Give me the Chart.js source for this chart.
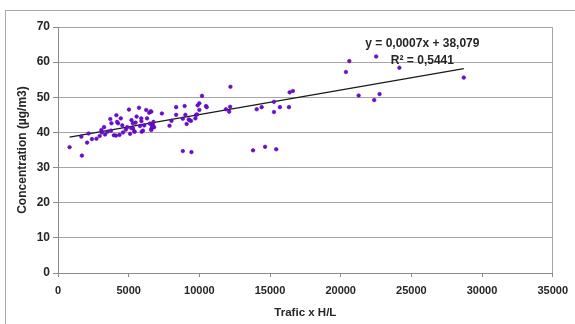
<!DOCTYPE html>
<html>
<head>
<meta charset="utf-8">
<script src="https://cdn.jsdelivr.net/npm/chart.js@4/dist/chart.umd.min.js"></script>
<style>
  html, body { margin: 0; padding: 0; background: #fff; }
  #wrap { position: relative; width: 575px; height: 324px; overflow: hidden; }
  #frame { position: absolute; left: 5px; top: 10px; right: -3px; bottom: -3px;
           border-left: 1px solid #a8a8a8; border-top: 1px solid #a8a8a8; }
  canvas { position: absolute; left: 0; top: 0; }
</style>
</head>
<body>
<div id="wrap">
  <div id="frame"></div>
  <canvas id="chart" width="575" height="324"></canvas>
</div>
<script>
// Traffic load (Trafic x H/L) at each measuring site
const trafic = [
  820, 1690, 1650, 2060, 2160, 2400, 2720, 2950, 3070, 3100,
  3260, 3330, 3500, 3700, 3780, 3750, 3950, 4100, 4130, 4250,
  4350, 4440, 4550, 4600, 4800, 4900, 5020, 5100, 5200, 5300,
  5400, 5490, 5560, 5730, 5800, 5900, 5920, 6100, 6240, 6300,
  6450, 6550, 6500, 6600, 6650, 6700, 6600, 6750, 6800, 7350,
  7890, 8030, 8360, 8360, 8830, 8830, 8960, 9010, 9100, 9250,
  9410, 9440, 9720, 9770, 9880, 10000, 10000, 10190, 10470, 10520,
  11880, 12110, 12180, 12200, 13800, 14060, 14410, 14650, 15280, 15280,
  15440, 15700, 16340, 16390, 16620, 20370, 20610, 21270, 22370, 22510,
  22750, 24150, 28710,
  5890, 6600, 5300, 6690, 6010, 5190, 5420, 9300, 9840, 4180
];

// Measured concentration (µg/m3) at the same sites
const concentration = [
  35.8, 33.4, 38.8, 37.1, 39.7, 38.1, 38.2, 39.0, 40.7, 40.0,
  41.5, 39.4, 40.2, 43.8, 42.6, 40.5, 39.2, 39.1, 44.9, 42.6,
  39.3, 44.0, 42.0, 40.0, 40.8, 41.5, 46.5, 39.6, 43.5, 41.2,
  40.3, 42.8, 44.5, 47.0, 41.8, 43.2, 40.2, 42.0, 46.4, 44.0,
  45.6, 46.0, 42.5, 41.0, 41.8, 42.3, 40.7, 43.0, 41.5, 45.4,
  41.9, 43.3, 47.2, 45.0, 43.9, 34.7, 47.5, 45.0, 42.4, 43.7,
  43.3, 34.4, 44.0, 45.0, 47.7, 48.3, 46.4, 50.4, 47.5, 47.2,
  46.6, 45.9, 47.3, 53.0, 34.9, 46.6, 47.2, 35.9, 48.7, 45.8,
  35.2, 47.2, 47.2, 51.4, 51.8, 57.2, 60.3, 50.5, 49.2, 61.6,
  50.9, 58.4, 55.6,
  44.0, 45.9, 42.6, 41.5, 40.5, 41.2, 40.2, 43.5, 45.1, 43.0
];

// Linear trend reported for the series
const slope = 0.0007;
const intercept = 38.079;
const equationLabel = 'y = 0,0007x + 38,079';
const r2Label = 'R\u00B2 = 0,5441';

// Axis ticks
const xTicks = [0, 5000, 10000, 15000, 20000, 25000, 30000, 35000];
const yTicks = [0, 10, 20, 30, 40, 50, 60, 70];

const points = trafic.map((t, i) => ({ x: t, y: concentration[i] }));
const xMin = Math.min(...trafic);
const xMax = Math.max(...trafic);
const trend = [
  { x: xMin, y: intercept + slope * xMin },
  { x: xMax, y: intercept + slope * xMax }
];

const FONT = '"Liberation Sans", Arial, sans-serif';

// Writes the regression equation and R² above the trend line
const equationText = {
  id: 'equationText',
  afterDatasetsDraw(chart) {
    const { ctx, scales } = chart;
    const cx = scales.x.getPixelForValue(25780);
    ctx.save();
    ctx.font = 'bold 12px ' + FONT;
    ctx.fillStyle = '#262626';
    ctx.textAlign = 'center';
    ctx.textBaseline = 'middle';
    ctx.fillText(equationLabel, cx, scales.y.getPixelForValue(65.2));
    ctx.fillText(r2Label, cx, scales.y.getPixelForValue(60.4));
    ctx.restore();
  }
};

new Chart(document.getElementById('chart'), {
  type: 'scatter',
  data: {
    datasets: [
      {
        label: 'Concentration',
        data: points,
        pointStyle: 'circle',
        pointRadius: 1.8,
        pointBackgroundColor: '#6a10cc',
        pointBorderColor: '#5a00b8',
        pointBorderWidth: 0.6
      },
      {
        label: 'Trend',
        data: trend,
        showLine: true,
        borderColor: '#1a1a1a',
        borderWidth: 1.3,
        pointRadius: 0
      }
    ]
  },
  options: {
    responsive: false,
    animation: false,
    devicePixelRatio: 1,
    layout: { padding: { top: 27, right: 20, left: 0, bottom: 0 } },
    plugins: { legend: { display: false }, tooltip: { enabled: false } },
    scales: {
      x: {
        type: 'linear',
        min: xTicks[0],
        max: xTicks[xTicks.length - 1],
        afterBuildTicks(scale) { scale.ticks = xTicks.map(v => ({ value: v })); },
        afterFit(scale) { scale.height = 51; },
        ticks: {
          font: { family: FONT, size: 11, weight: 'bold' },
          color: '#262626',
          padding: 7,
          maxRotation: 0,
          callback: v => String(v)
        },
        grid: {
          drawOnChartArea: true,
          color: ctx => (ctx.tick && ctx.tick.value === 35000) ? '#a6a6a6' : 'rgba(0,0,0,0)',
          tickColor: '#8a8a8a',
          tickLength: 4,
          lineWidth: 1
        },
        border: { color: '#8a8a8a', width: 1 },
        title: {
          display: true,
          text: 'Trafic x H/L',
          font: { family: FONT, size: 11.5, weight: 'bold' },
          color: '#262626',
          padding: { top: 0, bottom: 4 }
        }
      },
      y: {
        min: yTicks[0],
        max: yTicks[yTicks.length - 1],
        afterBuildTicks(scale) { scale.ticks = yTicks.map(v => ({ value: v })); },
        afterFit(scale) { scale.width = 58; },
        ticks: {
          font: { family: FONT, size: 12, weight: 'bold' },
          color: '#262626',
          padding: 3
        },
        grid: {
          color: '#a6a6a6',
          tickColor: '#8a8a8a',
          tickLength: 5,
          lineWidth: 1
        },
        border: { color: '#8a8a8a', width: 1 },
        title: {
          display: true,
          text: 'Concentration (\u00B5g/m3)',
          font: { family: FONT, size: 12, weight: 'bold' },
          color: '#262626',
          padding: { top: 15, bottom: 0 }
        }
      }
    }
  },
  plugins: [equationText]
});
</script>
</body>
</html>
